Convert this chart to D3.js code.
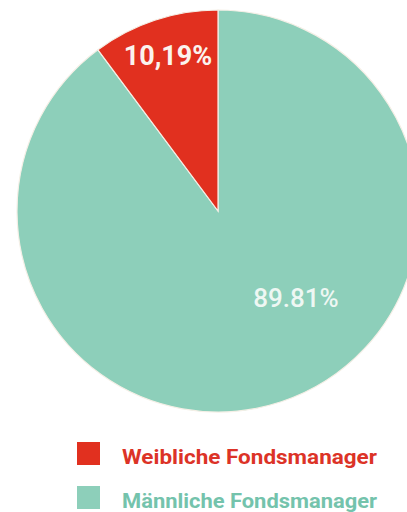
<!DOCTYPE html>
<html><head><meta charset="utf-8">
<script src="https://cdn.jsdelivr.net/npm/d3@7"></script>
<style>html,body{margin:0;padding:0;background:#fff;}svg{display:block;}</style>
</head><body>
<svg id="c" width="407" height="512"></svg>
<script>
const categories = ["Männliche Fondsmanager", "Weibliche Fondsmanager"];
const values = [89.81, 10.19];
const labels = ["89.81%", "10,19%"];
const colors = ["#8dcfba", "#e1301f"];
const legendOrder = ["Weibliche Fondsmanager", "Männliche Fondsmanager"];
const legendTextColors = {"Weibliche Fondsmanager": "#dc3327", "Männliche Fondsmanager": "#74c3ac"};

const svg = d3.select("#c");
const cx = 218, cy = 211, r = 201;
const color = d3.scaleOrdinal().domain(categories).range(colors);
const pie = d3.pie().sort(null).value(d => d.v);
const data = categories.map((c, i) => ({c, v: values[i], l: labels[i]}));
const arcs = pie(data);
const arc = d3.arc().innerRadius(0).outerRadius(r);
const g = svg.append("g").attr("transform", `translate(${cx},${cy})`);
g.selectAll("path").data(arcs).join("path")
  .attr("d", arc).attr("fill", d => color(d.data.c))
  .attr("stroke", "#f4efe6").attr("stroke-width", 1.2);

// labels
const labelPos = [{x: 296, y: 307, size: 26, weight: 500, fill: "#eef7f3"},
                  {x: 168, y: 65, size: 27, weight: 700, fill: "#fbf3ee"}];
arcs.forEach((a, i) => {
  const p = labelPos[i];
  svg.append("text").attr("x", p.x).attr("y", p.y)
    .attr("text-anchor", "middle")
    .attr("font-family", "Roboto, sans-serif")
    .attr("font-size", p.size).attr("font-weight", p.weight)
    .attr("fill", p.fill).text(a.data.l);
});

// legend
const ly = d3.scalePoint().domain(legendOrder).range([442, 486]);
const leg = svg.append("g");
legendOrder.forEach(c => {
  leg.append("rect").attr("x", 77).attr("y", ly(c)).attr("width", 23).attr("height", 23)
    .attr("fill", color(c));
  leg.append("text").attr("x", 122).attr("y", ly(c) + 21.5)
    .attr("font-family", "Roboto, sans-serif").attr("font-weight", 700)
    .attr("font-size", 21).attr("fill", legendTextColors[c])
    .attr("textLength", 255).attr("lengthAdjust", "spacingAndGlyphs")
    .text(c);
});
</script>
</body></html>
